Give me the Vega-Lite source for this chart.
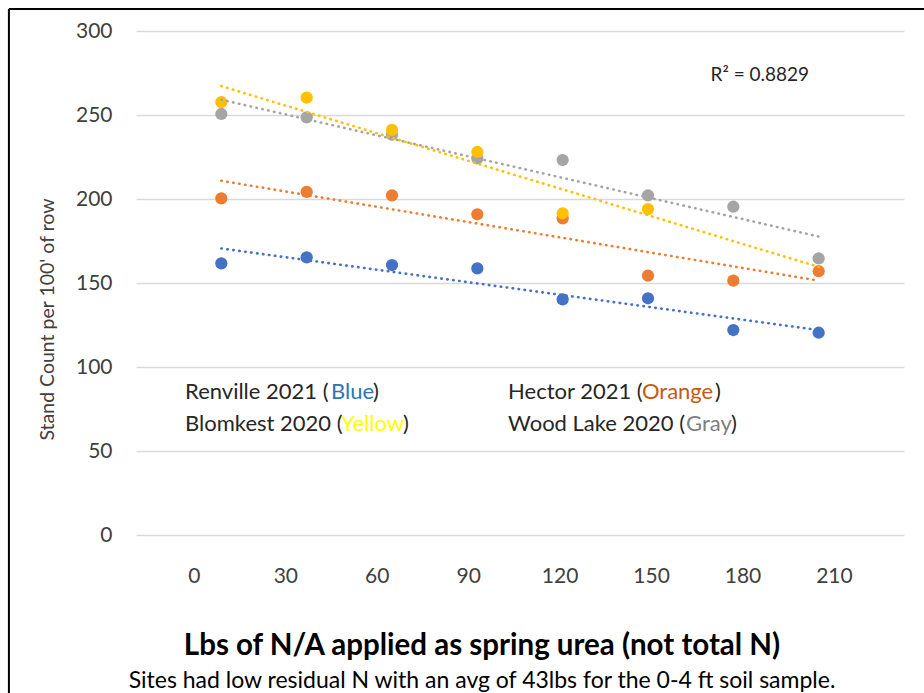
{
  "$schema": "https://vega.github.io/schema/vega-lite/v6.json",
  "width": 768,
  "height": 504,
  "autosize": "none",
  "padding": {"left": 136, "top": 31, "right": 20, "bottom": 158},
  "background": "white",
  "config": {"view": {"stroke": null}, "font": "Lato"},
  "title": {
    "text": "Lbs of N/A applied as spring urea (not total N)",
    "subtitle": "Sites had low residual N with an avg of 43lbs for the 0-4 ft soil sample.",
    "orient": "bottom",
    "anchor": "middle",
    "dx": -38,
    "offset": -63,
    "font": "Lato",
    "fontSize": 29.5,
    "fontWeight": "bold",
    "color": "#000000",
    "subtitleFont": "Lato",
    "subtitleFontSize": 23,
    "subtitleColor": "#000000",
    "subtitlePadding": 9
  },
  "datasets": {
    "points": [
      {"site": "Renville 2021", "N": 9, "stand": 161.7},
      {"site": "Renville 2021", "N": 37, "stand": 165.3},
      {"site": "Renville 2021", "N": 65, "stand": 160.7},
      {"site": "Renville 2021", "N": 93, "stand": 158.7},
      {"site": "Renville 2021", "N": 121, "stand": 140.3},
      {"site": "Renville 2021", "N": 149, "stand": 140.9},
      {"site": "Renville 2021", "N": 177, "stand": 122.0},
      {"site": "Renville 2021", "N": 205, "stand": 120.4},
      {"site": "Wood Lake 2020", "N": 9, "stand": 250.6},
      {"site": "Wood Lake 2020", "N": 37, "stand": 248.6},
      {"site": "Wood Lake 2020", "N": 65, "stand": 238.3},
      {"site": "Wood Lake 2020", "N": 93, "stand": 224.2},
      {"site": "Wood Lake 2020", "N": 121, "stand": 223.2},
      {"site": "Wood Lake 2020", "N": 149, "stand": 202.2},
      {"site": "Wood Lake 2020", "N": 177, "stand": 195.4},
      {"site": "Wood Lake 2020", "N": 205, "stand": 164.6},
      {"site": "Hector 2021", "N": 9, "stand": 200.4},
      {"site": "Hector 2021", "N": 37, "stand": 204.2},
      {"site": "Hector 2021", "N": 65, "stand": 202.2},
      {"site": "Hector 2021", "N": 93, "stand": 190.9},
      {"site": "Hector 2021", "N": 121, "stand": 188.5},
      {"site": "Hector 2021", "N": 149, "stand": 154.4},
      {"site": "Hector 2021", "N": 177, "stand": 151.4},
      {"site": "Hector 2021", "N": 205, "stand": 157.0},
      {"site": "Blomkest 2020", "N": 9, "stand": 257.7},
      {"site": "Blomkest 2020", "N": 37, "stand": 260.3},
      {"site": "Blomkest 2020", "N": 65, "stand": 241.1},
      {"site": "Blomkest 2020", "N": 93, "stand": 228.0},
      {"site": "Blomkest 2020", "N": 121, "stand": 191.5},
      {"site": "Blomkest 2020", "N": 149, "stand": 194.0}
    ],
    "notes": [
      {"label": "Renville 2021 (", "tone": "text", "N": -2.9, "stand": 85.1},
      {"label": "Blue", "tone": "Blue", "N": 45.0, "stand": 85.1},
      {"label": ")", "tone": "text", "N": 58.8, "stand": 85.1},
      {"label": "Blomkest 2020 (", "tone": "text", "N": -2.9, "stand": 66.1},
      {"label": "Yellow", "tone": "Yellow", "N": 48.3, "stand": 66.1},
      {"label": ")", "tone": "text", "N": 68.6, "stand": 66.1},
      {"label": "Hector 2021 (", "tone": "text", "N": 103.1, "stand": 85.1},
      {"label": "Orange", "tone": "Orange", "N": 147.0, "stand": 85.1},
      {"label": ")", "tone": "text", "N": 171.0, "stand": 85.1},
      {"label": "Wood Lake 2020 (", "tone": "text", "N": 103.1, "stand": 66.1},
      {"label": "Gray", "tone": "Gray", "N": 161.5, "stand": 66.1},
      {"label": ")", "tone": "text", "N": 176.2, "stand": 66.1}
    ]
  },
  "resolve": {"scale": {"color": "independent"}},
  "layer": [
    {
      "data": {"name": "points"},
      "mark": {"type": "point", "filled": true, "opacity": 1, "size": 150, "shape": "circle"},
      "encoding": {
        "x": {"field": "N", "type": "quantitative",
              "scale": {"domain": [-19, 233], "nice": false, "zero": false},
              "axis": {"values": [0, 30, 60, 90, 120, 150, 180, 210], "grid": false, "domain": false, "ticks": false,
                       "labelPadding": 30, "labelFont": "Lato", "labelFontSize": 21, "labelColor": "#404040", "title": null}},
        "y": {"field": "stand", "type": "quantitative",
              "scale": {"domain": [0, 300], "nice": false, "zero": true},
              "axis": {"values": [0, 50, 100, 150, 200, 250, 300], "grid": true, "gridColor": "#D9D9D9", "gridWidth": 1.5,
                       "domain": false, "ticks": false, "labelPadding": 24, "labelFont": "Lato", "labelFontSize": 21,
                       "labelColor": "#404040", "title": "Stand Count per 100' of row", "titleFont": "Lato",
                       "titleFontSize": 19.5, "titleFontWeight": "normal", "titleColor": "#404040",
                       "titleX": -89, "titleY": 288, "titleAngle": -90, "titleAlign": "center", "titleBaseline": "middle"}},
        "color": {"field": "site", "type": "nominal", "legend": null,
                  "scale": {"domain": ["Renville 2021", "Hector 2021", "Blomkest 2020", "Wood Lake 2020"],
                            "range": ["#4472C4", "#ED7D31", "#FFC000", "#A5A5A5"]}}
      }
    },
    {
      "data": {"name": "points"},
      "transform": [
        {"regression": "stand", "on": "N", "groupby": ["site"], "extent": [9, 205]}
      ],
      "mark": {"type": "line", "strokeWidth": 2.6, "strokeDash": [0.5, 5.5], "strokeCap": "round"},
      "encoding": {
        "x": {"field": "N", "type": "quantitative"},
        "y": {"field": "stand", "type": "quantitative"},
        "color": {"field": "site", "type": "nominal", "legend": null,
                  "scale": {"domain": ["Renville 2021", "Hector 2021", "Blomkest 2020", "Wood Lake 2020"],
                            "range": ["#4472C4", "#ED7D31", "#FFC000", "#A5A5A5"]}}
      }
    },
    {
      "data": {"name": "notes"},
      "mark": {"type": "text", "align": "left", "baseline": "middle", "font": "Lato", "fontSize": 22},
      "encoding": {
        "x": {"field": "N", "type": "quantitative"},
        "y": {"field": "stand", "type": "quantitative"},
        "text": {"field": "label"},
        "color": {"field": "tone", "type": "nominal", "legend": null,
                  "scale": {"domain": ["text", "Blue", "Orange", "Yellow", "Gray"],
                            "range": ["#262626", "#2E75B6", "#C55A11", "#FFFF00", "#7F7F7F"]}}
      }
    },
    {
      "data": {"values": [{"label": "R² = 0.8829", "N": 185.7, "stand": 273.8}]},
      "mark": {"type": "text", "align": "center", "baseline": "middle", "font": "Lato", "fontSize": 19, "color": "#262626"},
      "encoding": {
        "x": {"field": "N", "type": "quantitative"},
        "y": {"field": "stand", "type": "quantitative"},
        "text": {"field": "label"}
      }
    },
    {
      "data": {"values": [{}]},
      "mark": {"type": "rule", "color": "#000000", "strokeWidth": 2},
      "encoding": {
        "x": {"datum": -60.7},
        "y": {"datum": 313.1},
        "y2": {"datum": -94.5}
      }
    },
    {
      "data": {"values": [{}]},
      "mark": {"type": "rule", "color": "#000000", "strokeWidth": 2},
      "encoding": {
        "x": {"datum": -60.7},
        "x2": {"datum": 250},
        "y": {"datum": 313.1}
      }
    }
  ]
}
